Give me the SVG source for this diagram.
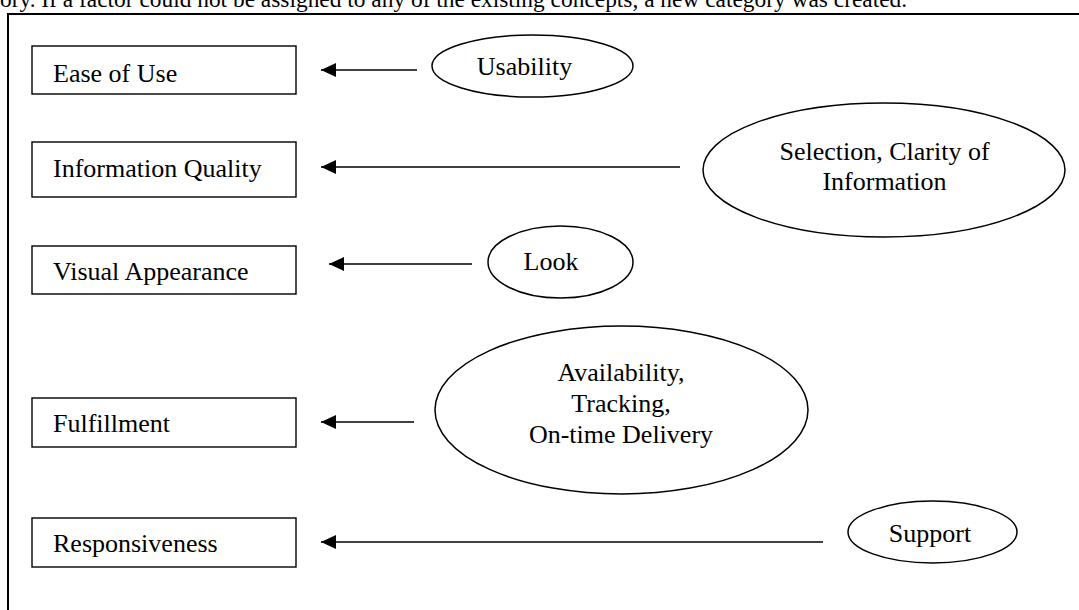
<svg xmlns="http://www.w3.org/2000/svg" width="1079" height="610" viewBox="0 0 1079 610">
<defs>
<style>
text{font-family:"Liberation Serif","Times New Roman",serif;font-size:26px;fill:#000}
.box{fill:#fff;stroke:#000;stroke-width:1.4}
.ell{fill:#fff;stroke:#000;stroke-width:1.5}
.c{text-anchor:middle}
.con line{stroke:#000;stroke-width:1.6;marker-end:url(#ah)}
</style>
<marker id="ah" markerUnits="userSpaceOnUse" markerWidth="16" markerHeight="14" refX="15" refY="7" orient="auto">
<path d="M0,0 L15,7 L0,14 z" fill="#000"/>
</marker>
</defs>
<rect width="1079" height="610" fill="#fff"/>
<text x="0" y="7" style="font-size:23.4px">ory.  If a factor could not be assigned to any of the existing concepts, a new category was created.</text>
<rect x="8" y="14" width="1100" height="700" fill="none" stroke="#000" stroke-width="2"/>
<g id="ease"><rect class="box" x="32" y="46" width="264" height="48"/><text x="53" y="82">Ease of Use</text></g>
<g id="infoq"><rect class="box" x="32" y="142" width="264" height="55"/><text x="53" y="177">Information Quality</text></g>
<g id="visual"><rect class="box" x="32" y="246" width="264" height="48"/><text x="53" y="280">Visual Appearance</text></g>
<g id="fulfil"><rect class="box" x="32" y="398" width="264" height="49"/><text x="53" y="432">Fulfillment</text></g>
<g id="resp"><rect class="box" x="32" y="518" width="264" height="49"/><text x="53" y="552">Responsiveness</text></g>
<g id="usability"><ellipse class="ell" cx="532.5" cy="66" rx="100.5" ry="31"/><text class="c" x="524.5" y="75">Usability</text></g>
<g id="selection"><ellipse class="ell" cx="884" cy="170" rx="181" ry="67"/><text class="c" x="884.5" y="160">Selection, Clarity of</text><text class="c" x="884.5" y="190">Information</text></g>
<g id="look"><ellipse class="ell" cx="560.5" cy="262" rx="72.5" ry="36"/><text class="c" x="551" y="270">Look</text></g>
<g id="avail"><ellipse class="ell" cx="621.5" cy="410" rx="186.5" ry="84"/><text class="c" x="621" y="381">Availability,</text><text class="c" x="621" y="412">Tracking,</text><text class="c" x="621" y="443">On-time Delivery</text></g>
<g id="support"><ellipse class="ell" cx="932.5" cy="532" rx="84.5" ry="31"/><text class="c" x="930" y="542">Support</text></g>
<g id="connectors" class="con">
<line x1="417" y1="70" x2="321" y2="70"/>
<line x1="680" y1="167" x2="321" y2="167"/>
<line x1="472" y1="264" x2="329" y2="264"/>
<line x1="414" y1="422" x2="321" y2="422"/>
<line x1="823" y1="542" x2="321" y2="542"/>
</g>
</svg>
